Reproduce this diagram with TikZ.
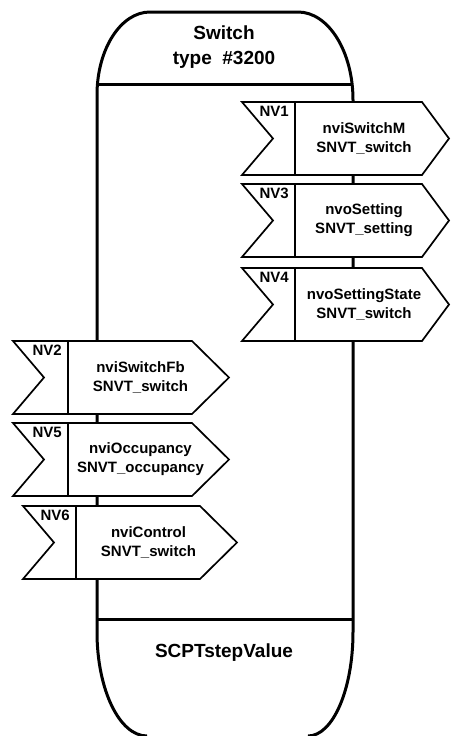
\documentclass[tikz,border=0pt]{standalone}
\usepackage{fontspec}
\setmainfont{Liberation Sans}
\tikzset{
  frame/.style={line width=3pt},
  nvbox/.style={draw,line width=1.7pt,fill=white,line join=miter},
  nvtext/.style={font=\bfseries\fontsize{15}{19}\selectfont,align=center,inner sep=0pt},
  nvlabel/.style={font=\bfseries\fontsize{15}{15}\selectfont,inner sep=0pt,anchor=north east},
  title/.style={font=\bfseries\fontsize{19}{25}\selectfont,align=center,inner sep=0pt}
}
\begin{document}
\begin{tikzpicture}[x=1pt,y=-1pt]
\useasboundingbox (0,0) rectangle (451,736);
% body of the object
\draw[frame] (147,736) arc[start angle=90,end angle=180,x radius=50,y radius=104]
  -- (97,95) arc[start angle=180,end angle=270,x radius=53,y radius=83]
  -- (298,12) arc[start angle=270,end angle=360,x radius=55,y radius=88]
  -- (353,632) arc[start angle=0,end angle=90,x radius=45,y radius=104];
\draw[frame] (97.5,84) -- (352,84);
\draw[frame] (97,619) -- (353,619);
%
\node[title] (head) at (224,47) {Switch\\type\ \ \#3200};
\node[title] (scpt) at (224,653) {SCPTstepValue};
%
\foreach \id/\x/\y/\dv/\fl/\tp/\nm in {
  NV1/242/102/53/180/207/{nviSwitchM\\SNVT\_switch},
  NV3/242/184/53/180/207/{nvoSetting\\SNVT\_setting},
  NV4/242/268/53/180/207/{nvoSettingState\\SNVT\_switch},
  NV2/13/341/55/179/216/{nviSwitchFb\\SNVT\_switch},
  NV5/13/423/55/179/216/{nviOccupancy\\SNVT\_occupancy},
  NV6/23/506/53/177/214/{nviControl\\SNVT\_switch}}
{
 \begin{scope}[shift={(\x,\y)}]
  \draw[nvbox] (0,0) -- (\fl,0) -- (\tp,36.5) -- (\fl,73) -- (0,73) -- (31,36.5) -- cycle;
  \draw[line width=1.7pt] (\dv,0) -- (\dv,73);
  \node[nvlabel] (lbl\id) at (\dv-6,4) {\id};
  \node[nvtext] (txt\id) at ({(\dv+\tp)/2-8},36.5) {\nm};
 \end{scope}
}
\end{tikzpicture}
\end{document}
